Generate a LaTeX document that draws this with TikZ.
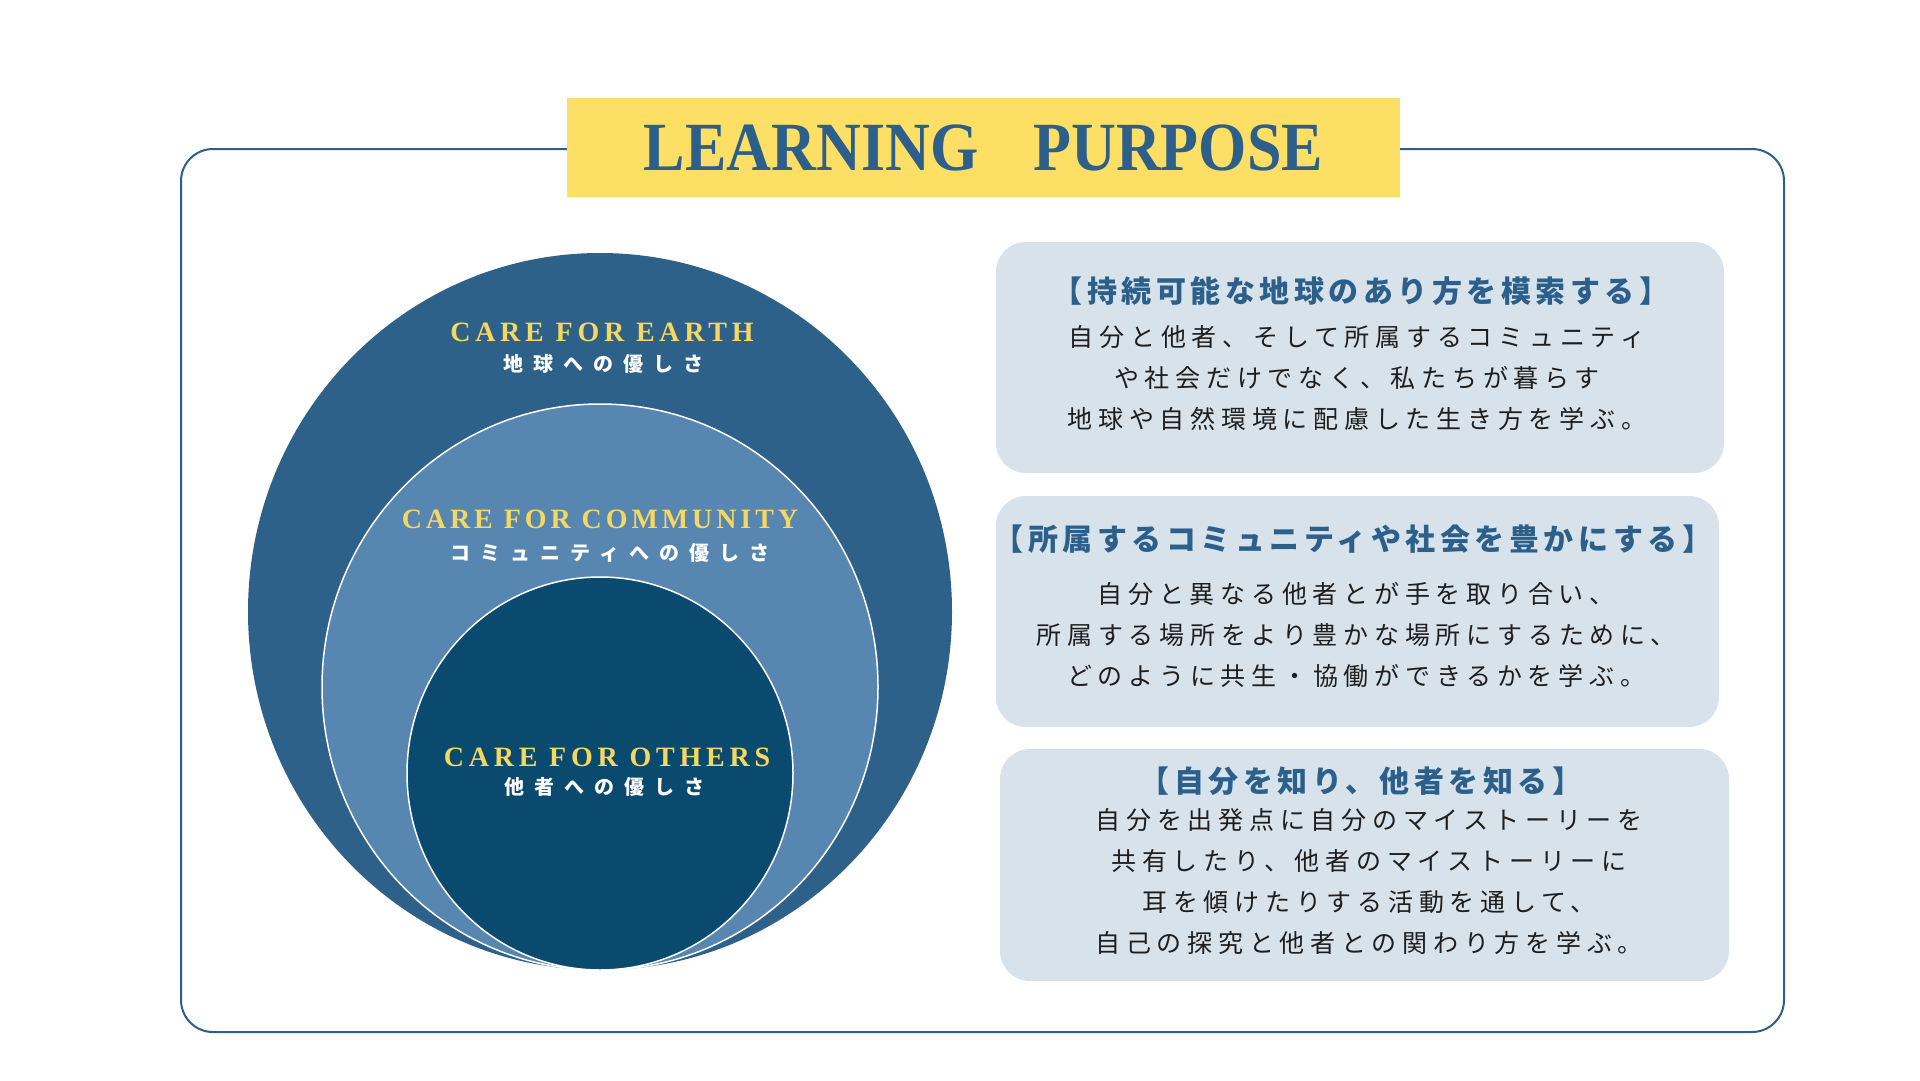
\documentclass[tikz,border=0pt]{standalone}
\usepackage{fontspec}
\usetikzlibrary{shapes.geometric}
\setmainfont{Liberation Serif}
\newfontfamily\titlefont[FakeStretch=0.90]{Liberation Serif}
\newfontfamily\capsfont[LetterSpace=17]{Liberation Serif}
\newfontfamily\capsfontn[LetterSpace=14]{Liberation Serif}
\newfontfamily\jplabel[LetterSpace=50]{Noto Sans CJK JP}
\newfontfamily\jphead[LetterSpace=15]{Noto Sans CJK JP}
\newfontfamily\jpbody[LetterSpace=23]{Noto Sans CJK JP}
\definecolor{navy}{HTML}{2C5F8A}
\definecolor{ybg}{HTML}{FDDF66}
\definecolor{gold}{HTML}{F6D760}
\definecolor{cearth}{HTML}{2D6189}
\definecolor{ccomm}{HTML}{5787B1}
\definecolor{cothers}{HTML}{0A4A6F}
\definecolor{boxbg}{HTML}{D7E2EB}
\definecolor{bodytext}{HTML}{1E1E1E}
\tikzset{
  frame/.style={draw=navy, line width=2pt, rounded corners=32pt},
  titleband/.style={fill=ybg, minimum width=833pt, minimum height=99pt, inner sep=0pt},
  titletext/.style={text=navy, font=\titlefont\bfseries\fontsize{69}{70}\selectfont, inner sep=0pt},
  ringouter/.style={ellipse, fill=cearth, inner sep=0pt},
  ring/.style={ellipse, draw=white, line width=1.5pt, inner sep=0pt},
  engl/.style={text=gold, font=\capsfont\bfseries\fontsize{28}{30}\selectfont, inner sep=0pt},
  engln/.style={text=gold, font=\capsfontn\bfseries\fontsize{28}{30}\selectfont, inner sep=0pt},
  jlabel/.style={text=white, font=\jplabel\bfseries\fontsize{20}{22}\selectfont, inner sep=0pt},
  infobox/.style={fill=boxbg, rounded corners=30pt, inner sep=0pt},
  head/.style={text=navy, font=\jphead\bfseries\fontsize{30}{32}\selectfont, inner sep=0pt},
  body/.style={text=bodytext, font=\jpbody\fontsize{25}{41}\selectfont, align=center, inner sep=0pt}
}
\begin{document}
\begin{tikzpicture}[x=1pt, y=-1pt]
\useasboundingbox[fill=white] (0,0) rectangle (1920,1080);
% frame
\draw[frame] (181,149) rectangle (1784,1032);
% title
\node[titleband] (title) at (983.5,147.5) {};
\node[titletext] (titlet) at (title.center) {LEARNING\hspace{55pt}PURPOSE};
% circles
\node[ringouter, minimum width=704pt, minimum height=717pt] (earth) at (600,611.5) {};
\node[ring, fill=ccomm, minimum width=556pt, minimum height=566pt] (comm) at (600,687) {};
\node[ring, fill=cothers, minimum width=386pt, minimum height=393pt] (others) at (600,773.5) {};
\node[engl] (earthE) at (602,332) {CARE FOR EARTH};
\node[jlabel] (earthJ) at (603,364) {地球への優しさ};
\node[engln] (commE) at (600,519) {CARE FOR COMMUNITY};
\node[jlabel] (commJ) at (610,553) {コミュニティへの優しさ};
\node[engl] (othersE) at (607,757) {CARE FOR OTHERS};
\node[jlabel] (othersJ) at (604,787) {他者への優しさ};
% info boxes
\node[infobox, minimum width=728pt, minimum height=231pt] (box1) at (1360,357.5) {};
\node[infobox, minimum width=723pt, minimum height=231pt] (box2) at (1357.5,611.5) {};
\node[infobox, minimum width=729pt, minimum height=232pt] (box3) at (1364.5,865) {};
\node[head] (h1) at (1361,291) {【持続可能な地球のあり方を模索する】};
\node[body] (b1) at (1357,378.5) {自分と他者、そして所属するコミュニティ\\や社会だけでなく、私たちが暮らす\\地球や自然環境に配慮した生き方を学ぶ。};
\node[head] (h2) at (1353,539) {【所属するコミュニティや社会を豊かにする】};
\node[body] (b2) at (1356,635) {自分と異なる他者とが手を取り合い、\\所属する場所をより豊かな場所にするために、\\どのように共生・協働ができるかを学ぶ。};
\node[head] (h3) at (1361,781) {【自分を知り、他者を知る】};
\node[body] (b3) at (1369,881.5) {自分を出発点に自分のマイストーリーを\\共有したり、他者のマイストーリーに\\耳を傾けたりする活動を通して、\\自己の探究と他者との関わり方を学ぶ。};
\end{tikzpicture}
\end{document}
